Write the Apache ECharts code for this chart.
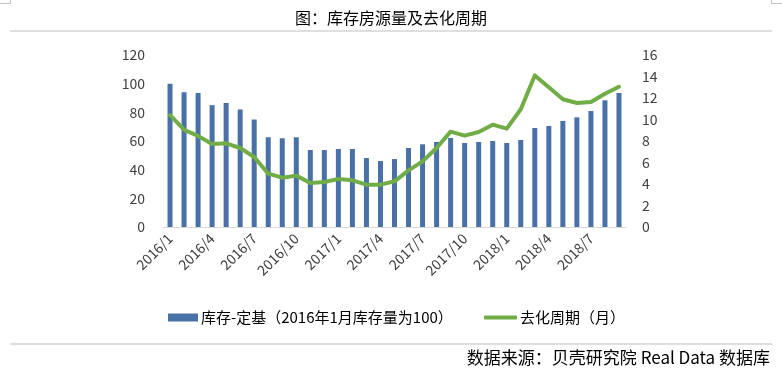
<!DOCTYPE html>
<html>
<head>
<meta charset="utf-8">
<script src="https://cdn.jsdelivr.net/npm/echarts@6/dist/echarts.min.js"></script>
<style>
html,body{margin:0;padding:0;background:#fff;}
#c{width:782px;height:380px;}
</style>
</head>
<body>
<div id="c"></div>
<script>
const categories = [
  '2016/1','2016/2','2016/3','2016/4','2016/5','2016/6','2016/7','2016/8','2016/9','2016/10','2016/11','2016/12',
  '2017/1','2017/2','2017/3','2017/4','2017/5','2017/6','2017/7','2017/8','2017/9','2017/10','2017/11','2017/12',
  '2018/1','2018/2','2018/3','2018/4','2018/5','2018/6','2018/7','2018/8','2018/9'
];
const inventoryIndex = [
  100, 94, 93.5, 85, 86.5, 82, 75, 62.6, 61.9, 62.6, 53.7, 53.7,
  54.4, 54.4, 48.1, 46, 47.4, 55.1, 57.7, 59.3, 62.1, 58.6, 59.3, 60,
  58.6, 60.7, 69.1, 70.5, 74, 76.5, 80.9, 88.4, 93.5
];
const cycleMonths = [
  10.4, 9.05, 8.47, 7.72, 7.78, 7.35, 6.51, 4.96, 4.59, 4.78, 4.09, 4.19,
  4.47, 4.34, 3.94, 3.94, 4.25, 5.27, 6.1, 7.35, 8.87, 8.5, 8.84, 9.52,
  9.15, 10.95, 14.1, 13.0, 11.88, 11.53, 11.63, 12.4, 13.05
];
const titleText = '图：库存房源量及去化周期';
const sourceText = '数据来源：贝壳研究院 Real Data 数据库';
const barName = '库存-定基（2016年1月库存量为100）';
const lineName = '去化周期（月）';

const FONT = '"Microsoft YaHei","Noto Sans CJK SC","Noto Sans",sans-serif';
const chart = echarts.init(document.getElementById('c'));
chart.setOption({
  animation: false,
  backgroundColor: '#ffffff',
  textStyle: { fontFamily: FONT },
  title: {
    text: titleText, left: 'center', top: 5,
    textStyle: { fontSize: 16, fontWeight: 'normal', color: '#000', fontFamily: FONT }
  },
  graphic: [
    { type: 'line', shape: { x1: 10, y1: 31, x2: 772, y2: 31 }, style: { stroke: '#bfbfbf', lineWidth: 1 } },
    { type: 'line', shape: { x1: 10, y1: 344, x2: 772, y2: 344 }, style: { stroke: '#bfbfbf', lineWidth: 1 } },
    { type: 'polyline', shape: { points: [[0, 3.5], [10.5, 3.5], [10.5, 0]] }, style: { stroke: '#bfbfbf', lineWidth: 1, fill: null } },
    { type: 'polyline', shape: { points: [[782, 3.5], [771.5, 3.5], [771.5, 0]] }, style: { stroke: '#bfbfbf', lineWidth: 1, fill: null } },
    { type: 'text', right: 12, top: 349, style: { text: sourceText, fill: '#000', font: '17px ' + FONT } }
  ],
  legend: [
    {
      data: [{ name: barName, icon: 'rect' }], left: 163, top: 305,
      itemWidth: 30, itemHeight: 8, itemGap: 3,
      textStyle: { fontSize: 15, color: '#000', fontFamily: FONT, padding: [0, 0, 0, -2] }
    },
    {
      data: [{ name: lineName, icon: 'roundRect' }], left: 479, top: 305,
      itemWidth: 33, itemHeight: 4,
      textStyle: { fontSize: 15, color: '#000', fontFamily: FONT, padding: [0, 0, 0, -2] }
    }
  ],
  grid: { left: 163, right: 156, top: 55, bottom: 153, containLabel: false },
  xAxis: {
    type: 'category', data: categories,
    axisLine: { lineStyle: { color: '#d9d9d9' } },
    axisTick: { show: false },
    axisLabel: {
      interval: 2, rotate: 45, fontSize: 14, color: '#404040', margin: 9,
      fontFamily: FONT
    }
  },
  yAxis: [
    {
      type: 'value', min: 0, max: 120, interval: 20,
      splitLine: { show: false }, axisLine: { show: false }, axisTick: { show: false },
      axisLabel: { fontSize: 14, color: '#404040', margin: 18, fontFamily: FONT }
    },
    {
      type: 'value', min: 0, max: 16, interval: 2,
      splitLine: { show: false }, axisLine: { show: false }, axisTick: { show: false },
      axisLabel: { fontSize: 14, color: '#404040', margin: 16, fontFamily: FONT }
    }
  ],
  series: [
    {
      name: barName, type: 'bar', data: inventoryIndex, yAxisIndex: 0,
      barWidth: 5, itemStyle: { color: '#4a70a8' }
    },
    {
      name: lineName, type: 'line', data: cycleMonths, yAxisIndex: 1,
      showSymbol: false, symbol: 'none', smooth: false,
      lineStyle: { color: '#70ad47', width: 4, join: 'round', cap: 'round' },
      itemStyle: { color: '#70ad47' }
    }
  ]
});
</script>
</body>
</html>
